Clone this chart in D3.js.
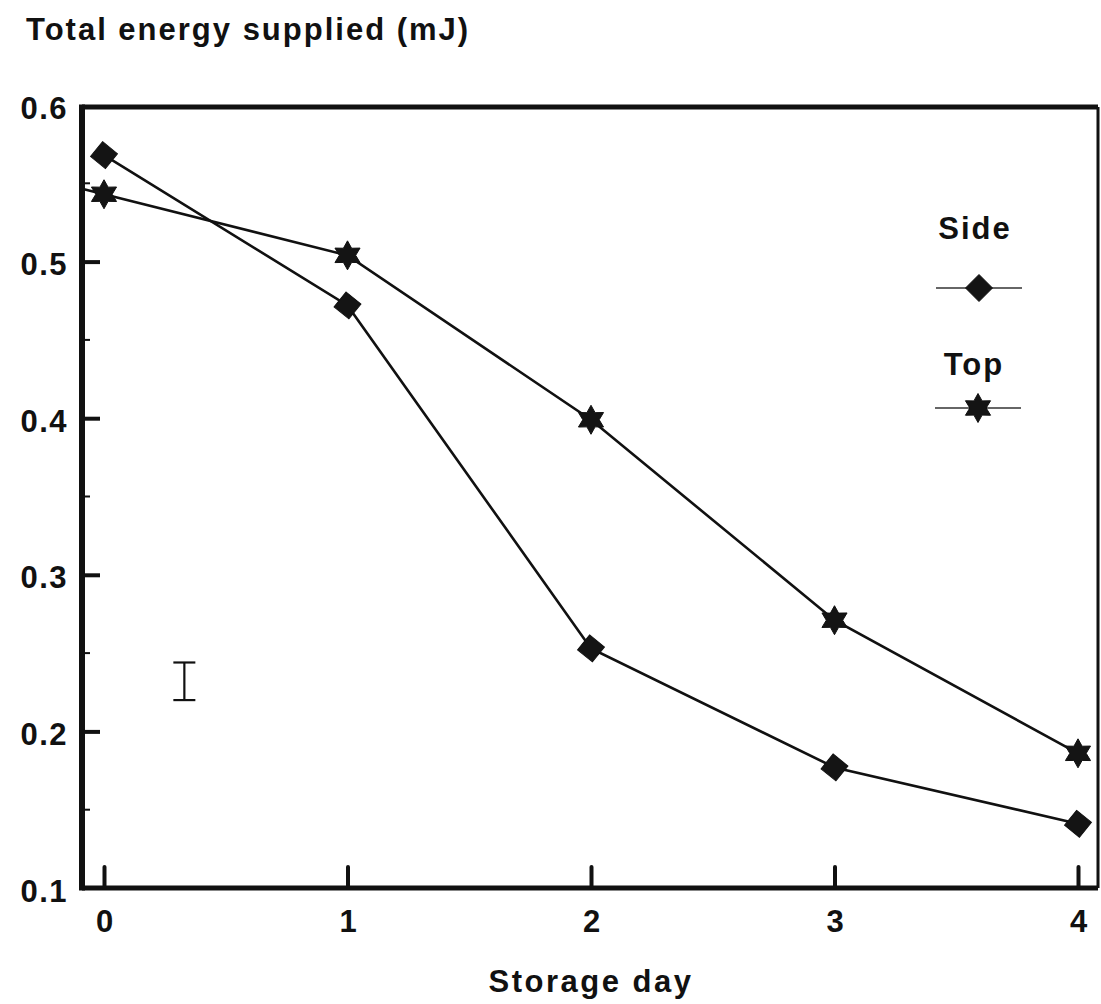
<!DOCTYPE html>
<html>
<head>
<meta charset="utf-8">
<script src="https://cdn.jsdelivr.net/npm/d3@7"></script>
<style>
  html, body { margin: 0; padding: 0; background: #fff; }
  svg text { font-family: "Liberation Sans", Arial, sans-serif; font-weight: bold; fill: #111; }
</style>
</head>
<body>
<svg id="chart" width="1101" height="1004"></svg>
<script>
// Storage days on the x axis
const days = [0, 1, 2, 3, 4];
// Total energy supplied (mJ) per storage day
const sideValues = [0.568, 0.472, 0.253, 0.177, 0.141];
const topValues  = [0.543, 0.504, 0.399, 0.271, 0.186];
// Y-axis tick labels
const yTicks = [0.1, 0.2, 0.3, 0.4, 0.5, 0.6];
const yMinorTicks = [0.15, 0.25, 0.35, 0.45, 0.55];
// Representative error bar (low, high) and its day position
const errorBar = { day: 0.33, low: 0.22, high: 0.244 };

const svg = d3.select("#chart");
const frame = { left: 82, top: 107, right: 1098, bottom: 888 };

const x = d3.scaleLinear().domain([0, 4]).range([104, 1078]);
const y = d3.scaleLinear().domain([0.1, 0.6]).range([frame.bottom, 105]);

const ink = "#111";

// Title (y-axis label)
svg.append("text")
  .attr("x", 26).attr("y", 40)
  .attr("font-size", 31).attr("letter-spacing", 2)
  .text("Total energy supplied (mJ)");

// Frame
svg.append("line").attr("x1", frame.left).attr("x2", frame.right)
  .attr("y1", frame.top).attr("y2", frame.top)
  .attr("stroke", ink).attr("stroke-width", 5);
svg.append("line").attr("x1", frame.right).attr("x2", frame.right)
  .attr("y1", frame.top).attr("y2", frame.bottom)
  .attr("stroke", ink).attr("stroke-width", 3);
svg.append("line").attr("x1", frame.left).attr("x2", frame.right)
  .attr("y1", frame.bottom).attr("y2", frame.bottom)
  .attr("stroke", ink).attr("stroke-width", 5);
svg.append("line").attr("x1", frame.left).attr("x2", frame.left)
  .attr("y1", frame.top - 2.5).attr("y2", frame.bottom + 2.5)
  .attr("stroke", ink).attr("stroke-width", 6);

// Y axis: inward ticks, labels on the left
const yAxis = d3.axisLeft(y).tickValues(yTicks).tickSize(-18)
  .tickPadding(14).tickFormat(d3.format(".1f"));
const gy = svg.append("g").attr("transform", `translate(${frame.left},0)`).call(yAxis);
gy.select(".domain").remove();
gy.selectAll(".tick line").attr("stroke", ink).attr("stroke-width", 4);
gy.selectAll(".tick text")
  .attr("font-size", 31).attr("letter-spacing", 1.5)
  .attr("font-family", "Liberation Sans, Arial, sans-serif")
  .attr("font-weight", "bold").attr("fill", ink)
  .attr("dy", "0.42em");
gy.selectAll(".tick").filter(d => d === 0.1 || d === 0.6).select("line").remove();

svg.append("g").selectAll("line").data(yMinorTicks).join("line")
  .attr("x1", frame.left).attr("x2", frame.left + 8)
  .attr("y1", d => y(d)).attr("y2", d => y(d))
  .attr("stroke", ink).attr("stroke-width", 2);

// X axis: upward ticks, labels below
const xAxis = d3.axisBottom(x).tickValues(days).tickSize(-21)
  .tickPadding(44).tickFormat(d3.format("d"));
const gx = svg.append("g").attr("transform", `translate(0,${frame.bottom})`).call(xAxis);
gx.select(".domain").remove();
gx.selectAll(".tick line").attr("stroke", ink).attr("stroke-width", 4)
  .attr("stroke-linecap", "round");
gx.selectAll(".tick text")
  .attr("font-size", 31)
  .attr("font-family", "Liberation Sans, Arial, sans-serif")
  .attr("font-weight", "bold").attr("fill", ink)
  .attr("dy", "0");

svg.append("text")
  .attr("x", 591).attr("y", 992)
  .attr("text-anchor", "middle")
  .attr("font-size", 31).attr("letter-spacing", 2.5)
  .text("Storage day");

// Series lines
const line = d3.line().x(d => x(d[0])).y(d => y(d[1]));
const sidePts = days.map((d, i) => [d, sideValues[i]]);
const topPts = days.map((d, i) => [d, topValues[i]]);

// The Top series continues its first segment back to the y axis
const dayAtAxis = x.invert(frame.left + 2);
const topLead = [dayAtAxis,
  topValues[0] + (topValues[0] - topValues[1]) * (days[0] - dayAtAxis) / (days[1] - days[0])];

svg.append("path").attr("d", line(sidePts))
  .attr("fill", "none").attr("stroke", ink).attr("stroke-width", 2.6);
svg.append("path").attr("d", line([topLead, ...topPts]))
  .attr("fill", "none").attr("stroke", ink).attr("stroke-width", 2.6);

// Marker shapes
const diamondPath = (() => {
  const r = 13.5;
  return `M0,${-r}L${r},0L0,${r}L${-r},0Z`;
})();
const starPath = (() => {
  const R = 14.5, r = 8.2;
  const pts = d3.range(12).map(i => {
    const a = -Math.PI / 2 + i * Math.PI / 6;
    const rad = i % 2 === 0 ? R : r;
    return [rad * Math.cos(a), rad * Math.sin(a)];
  });
  return "M" + pts.map(p => p.join(",")).join("L") + "Z";
})();

svg.append("g").selectAll("path").data(sidePts).join("path")
  .attr("d", diamondPath)
  .attr("transform", d => `translate(${x(d[0])},${y(d[1])}) rotate(-6)`)
  .attr("fill", "#141414").attr("stroke", ink).attr("stroke-width", 1);
svg.append("g").selectAll("path").data(topPts).join("path")
  .attr("d", starPath)
  .attr("transform", d => `translate(${x(d[0])},${y(d[1])})`)
  .attr("fill", "#141414").attr("stroke", ink).attr("stroke-width", 1);

// Error bar
const ex = x(errorBar.day);
const eb = svg.append("g").attr("stroke", ink).attr("stroke-width", 2.2);
eb.append("line").attr("x1", ex).attr("x2", ex)
  .attr("y1", y(errorBar.high)).attr("y2", y(errorBar.low));
[errorBar.high, errorBar.low].forEach(v => {
  eb.append("line").attr("x1", ex - 11).attr("x2", ex + 11)
    .attr("y1", y(v)).attr("y2", y(v));
});

// Legend
const legend = [
  { name: "Side", shape: diamondPath, textY: 239, lineY: 288, cx: 979 },
  { name: "Top", shape: starPath, textY: 375, lineY: 408, cx: 978 }
];
const lg = svg.append("g");
legend.forEach(l => {
  lg.append("text").attr("x", l.cx - 4).attr("y", l.textY)
    .attr("text-anchor", "middle").attr("font-size", 31).attr("letter-spacing", 2)
    .text(l.name);
  lg.append("line").attr("x1", l.cx - 43).attr("x2", l.cx + 43)
    .attr("y1", l.lineY).attr("y2", l.lineY)
    .attr("stroke", "#333").attr("stroke-width", 1.6);
  lg.append("path").attr("d", l.shape)
    .attr("transform", `translate(${l.cx},${l.lineY})`)
    .attr("fill", "#141414").attr("stroke", ink).attr("stroke-width", 1);
});
</script>
</body>
</html>
